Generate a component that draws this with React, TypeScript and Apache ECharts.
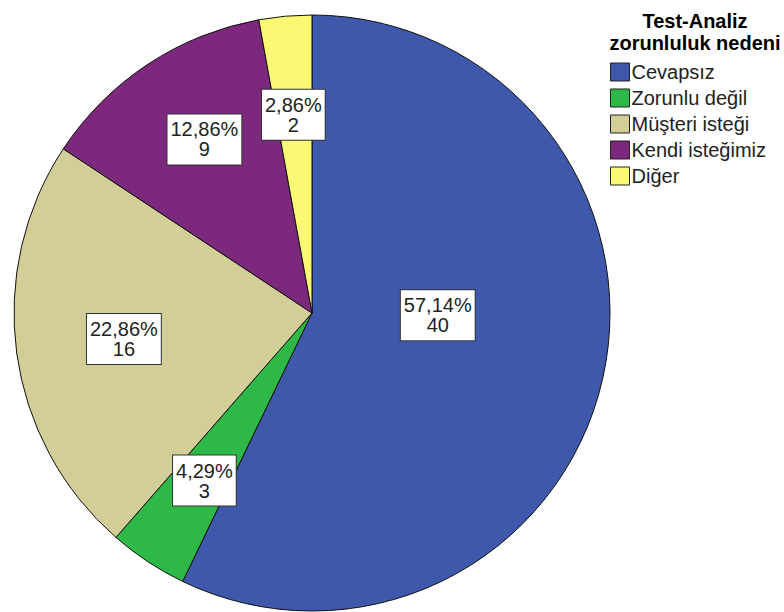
import React, { useEffect, useRef } from "react";
import * as echarts from "echarts";

const categories = ["Cevapsız", "Zorunlu değil", "Müşteri isteği", "Kendi isteğimiz", "Diğer"];
const counts = [40, 3, 16, 9, 2];
const colors = ["#3E58AC", "#2EB848", "#D3CE97", "#7C287D", "#FBF873"];
const legendTitle = "Test-Analiz\nzorunluluk nedeni";

const FONT = "'Liberation Sans', Arial, sans-serif";

export default function App() {
  const ref = useRef<HTMLDivElement>(null);
  useEffect(() => {
    document.body.style.margin = "0";
    const chart = echarts.init(ref.current!, null, { renderer: "svg" });
    const total = counts.reduce((a, b) => a + b, 0);
    const data = categories.map((name, i) => ({
      name,
      value: counts[i],
      itemStyle: { color: colors[i] },
    }));
    const center = [312, 313];
    const labelOffsets: Record<number, [number, number]> = {
      0: [-77, -44],
      1: [7, -6],
      2: [18, -2],
      3: [7, 0],
      4: [0, 9],
    };
    chart.setOption({
      animation: false,
      backgroundColor: "#fff",
      title: {
        text: legendTitle,
        left: 690,
        top: 5,
        textAlign: "center",
        textStyle: {
          fontFamily: FONT,
          fontSize: 20,
          fontWeight: "bold",
          lineHeight: 22,
          color: "#000",
          align: "center",
        },
      },
      legend: {
        orient: "vertical",
        left: 610,
        top: 62,
        padding: 0,
        itemWidth: 19,
        itemHeight: 18,
        itemGap: 6,
        icon: "rect",
        itemStyle: { borderColor: "#222", borderWidth: 1 },
        textStyle: { fontFamily: FONT, fontSize: 20, color: "#222", padding: [0, 0, 0, -3] },
        data: categories,
      },
      series: [
        {
          type: "pie",
          center,
          radius: [0, 298],
          startAngle: 90,
          clockwise: true,
          silent: true,
          data,
          label: { show: false },
          labelLine: { show: false },
          itemStyle: { borderColor: "#111", borderWidth: 1 },
        },
        {
          type: "pie",
          center,
          radius: [195, 215],
          startAngle: 90,
          clockwise: true,
          silent: true,
          data: categories.map((name, i) => ({ name: name, value: counts[i] })),
          itemStyle: { color: "rgba(0,0,0,0)", borderWidth: 0 },
          emphasis: { disabled: true },
          labelLine: { show: false },
          label: {
            show: true,
            position: "inside",
            formatter: (p: any) =>
              `${((p.value / total) * 100).toFixed(2).replace(".", ",")}%\n${p.value}`,
            fontFamily: FONT,
            fontSize: 20,
            lineHeight: 20,
            color: "#222",
            align: "center",
            backgroundColor: "#fff",
            borderColor: "#333",
            borderWidth: 1,
            padding: [5, 3, 5, 3],
          },
          labelLayout: (p: any) => {
            const o = labelOffsets[p.dataIndex];
            return o ? { dx: o[0], dy: o[1] } : {};
          },
        },
      ],
    });
    return () => chart.dispose();
  }, []);
  return <div ref={ref} style={{ width: 784, height: 612 }} />;
}
